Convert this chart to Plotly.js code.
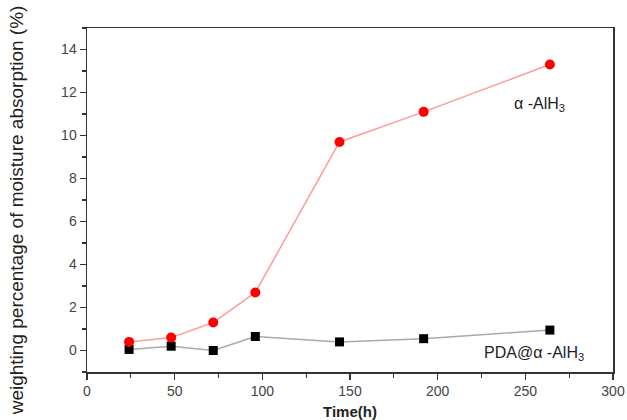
<!DOCTYPE html>
<html>
<head>
<meta charset="utf-8">
<script src="https://cdn.plot.ly/plotly-3.0.1.min.js"></script>
<style>html,body{margin:0;padding:0;background:#fff;}#chart{width:627px;height:420px;}</style>
</head>
<body>
<div id="chart"></div>
<script>
const timeHours = [24, 48, 72, 96, 144, 192, 264];
const alphaAlH3 = [0.4, 0.6, 1.3, 2.7, 9.7, 11.1, 13.3];
const pdaAlphaAlH3 = [0.05, 0.2, 0.0, 0.65, 0.4, 0.55, 0.95];
const seriesLabels = ['α -AlH<sub>3</sub>', 'PDA@α -AlH<sub>3</sub>'];

const traces = [
  {
    x: timeHours, y: pdaAlphaAlH3, mode: 'lines+markers', name: 'PDA@α -AlH3',
    line: {color: '#aaaaaa', width: 1.5},
    marker: {symbol: 'square', size: 9, color: '#000000'}
  },
  {
    x: timeHours, y: alphaAlH3, mode: 'lines+markers', name: 'α -AlH3',
    line: {color: '#ff9a9a', width: 1.5},
    marker: {symbol: 'circle', size: 10, color: '#ff0000'}
  }
];

const tickFont = {family: 'Liberation Sans, Arial, sans-serif', size: 14, color: '#444'};
const layout = {
  width: 627, height: 420,
  margin: {l: 87, r: 14, t: 28, b: 48},
  showlegend: false,
  paper_bgcolor: '#fff', plot_bgcolor: '#fff',
  xaxis: {
    range: [0, 300], dtick: 50, tick0: 0,
    ticks: 'outside', ticklen: 6, tickwidth: 1.2, tickcolor: '#333',
    minor: {dtick: 25, ticks: 'outside', ticklen: 4, tickcolor: '#333', showgrid: false},
    showline: true, linecolor: '#333', linewidth: 1.5, mirror: true,
    showgrid: false, zeroline: false, tickfont: tickFont
  },
  yaxis: {
    range: [-1, 15], tickvals: [0, 2, 4, 6, 8, 10, 12, 14],
    ticks: 'outside', ticklen: 6, tickwidth: 1.2, tickcolor: '#333',
    minor: {dtick: 1, ticks: 'outside', ticklen: 4, tickcolor: '#333', showgrid: false},
    showline: true, linecolor: '#333', linewidth: 1.5, mirror: true,
    showgrid: false, zeroline: false, tickfont: tickFont
  },
  annotations: [
    {text: 'weighting percentage of moisture absorption (%)', xref: 'paper', yref: 'paper',
     x: -0.135, y: 0.47, textangle: -90, showarrow: false, xanchor: 'center', yanchor: 'middle',
     font: {family: 'Liberation Sans, Arial, sans-serif', size: 19, color: '#222'}},
    {text: '<b>Time(h)</b>', xref: 'paper', yref: 'paper', x: 0.5, y: -0.115, showarrow: false,
     xanchor: 'center', yanchor: 'middle',
     font: {family: 'Liberation Sans, Arial, sans-serif', size: 15, color: '#222'}},
    {text: seriesLabels[0], xref: 'x', yref: 'y', x: 258, y: 11.45, showarrow: false,
     xanchor: 'center', font: {family: 'Liberation Sans, Arial, sans-serif', size: 16, color: '#222'}},
    {text: seriesLabels[1], xref: 'x', yref: 'y', x: 255, y: -0.15, showarrow: false,
     xanchor: 'center', font: {family: 'Liberation Sans, Arial, sans-serif', size: 16, color: '#222'}}
  ]
};

Plotly.newPlot('chart', traces, layout, {displayModeBar: false, staticPlot: true});
</script>
</body>
</html>
